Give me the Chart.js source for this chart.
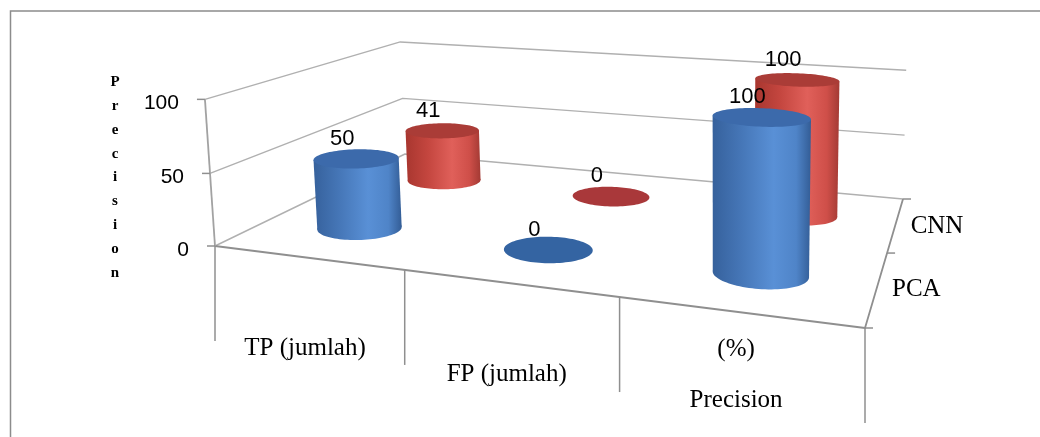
<!DOCTYPE html>
<html>
<head>
<meta charset="utf-8">
<script src="https://cdn.jsdelivr.net/npm/chart.js@4/dist/chart.umd.min.js"></script>
<style>
  html, body { margin: 0; padding: 0; background: #ffffff; }
  #wrap { width: 1040px; height: 437px; position: relative; }
  canvas { display: block; }
</style>
</head>
<body>
<div id="wrap"><canvas id="chart" width="1040" height="437"></canvas></div>
<script>
// ---- data ----
const categories = ['TP (jumlah)', 'FP (jumlah)', ['(%)', 'Precision']];
const seriesNames = ['PCA', 'CNN'];
const pcaValues = [50, 0, 100];
const cnnValues = [41, 0, 100];
const yTicks = [0, 50, 100];
const axisTitle = 'Precision';

// ---- look ----
const palette = {
  PCA: { body: ['#36619c', '#4677b8', '#5990d6', '#4f84c8', '#335d96'], cap: '#3c6aab', disc: '#3464a2' },
  CNN: { body: ['#a8362f', '#c4463f', '#e0605a', '#cf4f49', '#a33a34'], cap: '#aa3c37', disc: '#a9383a' }
};
const gridColor = '#b0b0b0';
const axisColor = '#8f8f8f';

// Screen corners of the 3-D plot box (floor and wall edges).
const boxFloor = [[215, 246], [865, 328], [903, 199], [405, 154]]; // (u,v): (0,0) (1,0) (1,1) (0,1)
const boxRaised = [ // [screenX, screenY, u, v, heightFraction]
  [203, 98, 0, 0, 1], [402, 43, 0, 1, 1], [907, 70, 1, 1, 1],
  [210, 173, 0, 0, 0.5], [403, 100, 0, 1, 0.5], [902, 134, 1, 1, 0.5]
];

function solve(A, b) {
  const n = b.length;
  const M = A.map((r, i) => [...r, b[i]]);
  for (let c = 0; c < n; c++) {
    let p = c;
    for (let r = c + 1; r < n; r++) if (Math.abs(M[r][c]) > Math.abs(M[p][c])) p = r;
    [M[c], M[p]] = [M[p], M[c]];
    for (let r = 0; r < n; r++) {
      if (r === c) continue;
      const f = M[r][c] / M[c][c];
      for (let k = c; k <= n; k++) M[r][k] -= f * M[c][k];
    }
  }
  return M.map((r, i) => r[n] / r[i]);
}

// floor homography (u,v) -> screen
const H = (function () {
  const uv = [[0, 0], [1, 0], [1, 1], [0, 1]];
  const A = [], b = [];
  uv.forEach(([u, v], i) => {
    const [x, y] = boxFloor[i];
    A.push([u, v, 1, 0, 0, 0, -u * x, -v * x]); b.push(x);
    A.push([0, 0, 0, u, v, 1, -u * y, -v * y]); b.push(y);
  });
  const h = solve(A, b);
  return [[h[0], h[1], h[2]], [h[3], h[4], h[5]], [h[6], h[7], 1]];
})();
function floorH(u, v) {
  return [H[0][0] * u + H[0][1] * v + H[0][2], H[1][0] * u + H[1][1] * v + H[1][2], H[2][0] * u + H[2][1] * v + H[2][2]];
}
// vertical direction column, least squares fit
const VC = (function () {
  const rows = [], rhs = [];
  boxRaised.forEach(([sx, sy, u, v, Y]) => {
    const [hx, hy, hw] = floorH(u, v);
    rows.push([Y, 0, -sx * Y]); rhs.push(sx * hw - hx);
    rows.push([0, Y, -sy * Y]); rhs.push(sy * hw - hy);
  });
  const N = [[0, 0, 0], [0, 0, 0], [0, 0, 0]], r = [0, 0, 0];
  rows.forEach((row, k) => {
    for (let i = 0; i < 3; i++) {
      r[i] += row[i] * rhs[k];
      for (let j = 0; j < 3; j++) N[i][j] += row[i] * row[j];
    }
  });
  return solve(N, r);
})();

const nCat = categories.length;
const nDepth = seriesNames.length;
// world: X in [0,nCat], Y in [0,1], Z in [0,nDepth]
function P(X, Y, Z) {
  const [hx, hy, hw] = floorH(X / nCat, Z / nDepth);
  const w = hw + Y * VC[2];
  return [(hx + Y * VC[0]) / w, (hy + Y * VC[1]) / w];
}

function line(ctx, pts, color, width) {
  ctx.save();
  ctx.strokeStyle = color; ctx.lineWidth = width; ctx.lineJoin = 'round';
  ctx.beginPath();
  pts.forEach((p, i) => (i ? ctx.lineTo(p[0], p[1]) : ctx.moveTo(p[0], p[1])));
  ctx.stroke();
  ctx.restore();
}

function poly(ctx, pts) {
  ctx.beginPath();
  pts.forEach((p, i) => (i ? ctx.lineTo(p[0], p[1]) : ctx.moveTo(p[0], p[1])));
  ctx.closePath();
}

function cylinder(ctx, X, Z, rx, rz, Y0, Y1, look) {
  const N = 96, bot = [], top = [];
  for (let i = 0; i < N; i++) {
    const t = (i / N) * Math.PI * 2;
    const x = X + rx * Math.cos(t), z = Z + rz * Math.sin(t);
    bot.push(P(x, Y0, z));
    top.push(P(x, Y1, z));
  }
  ctx.save();
  if (Y1 - Y0 < 1e-6) {
    ctx.fillStyle = look.disc;
    poly(ctx, bot); ctx.fill();
    ctx.restore();
    return;
  }
  const ext = arr => {
    let l = 0, r = 0;
    arr.forEach((p, i) => { if (p[0] < arr[l][0]) l = i; if (p[0] > arr[r][0]) r = i; });
    return [l, r];
  };
  const [bl, br] = ext(bot), [tl, tr] = ext(top);
  const x0 = Math.min(bot[bl][0], top[tl][0]), x1 = Math.max(bot[br][0], top[tr][0]);
  const g = ctx.createLinearGradient(x0, 0, x1, 0);
  g.addColorStop(0, look.body[0]);
  g.addColorStop(0.3, look.body[1]);
  g.addColorStop(0.62, look.body[2]);
  g.addColorStop(0.85, look.body[3]);
  g.addColorStop(1, look.body[4]);
  ctx.fillStyle = g;
  poly(ctx, bot); ctx.fill();
  poly(ctx, [bot[bl], top[tl], top[tr], bot[br]]); ctx.fill();
  ctx.fillStyle = look.cap;
  poly(ctx, top); ctx.fill();
  ctx.restore();
}

const scene3d = {
  id: 'scene3d',
  beforeDatasetsDraw() { return false; },
  afterDraw(chart) {
    const ctx = chart.ctx;
    const area = chart.chartArea;
    const xs = chart.scales.x, ys = chart.scales.y;
    const toX = px => ((px - area.left) / area.width) * nCat;
    const toY = py => (area.bottom - py) / area.height;

    // outer frame
    ctx.save();
    ctx.strokeStyle = '#8c8c8c'; ctx.lineWidth = 1.5;
    ctx.strokeRect(10.5, 11, 1100, 500);
    ctx.restore();

    // walls: gridlines on the left and back walls
    ys.ticks.forEach(t => {
      const Y = toY(ys.getPixelForValue(t.value));
      line(ctx, [P(0, Y, 0), P(0, Y, nDepth), P(nCat, Y, nDepth)], gridColor, 1.4);
    });
    // floor: front and right edges
    line(ctx, [P(0, 0, 0), P(nCat, 0, 0), P(nCat, 0, nDepth)], axisColor, 1.8);
    // value axis line and ticks
    line(ctx, [P(0, 0, 0), P(0, 1, 0)], '#a2a2a2', 1.8);
    ctx.save();
    ctx.fillStyle = '#000';
    ctx.font = '21px "Liberation Sans", Arial, sans-serif';
    ctx.textAlign = 'right'; ctx.textBaseline = 'middle';
    ys.ticks.forEach(t => {
      const Y = toY(ys.getPixelForValue(t.value));
      const p = P(0, Y, 0);
      line(ctx, [[p[0] - 8, p[1]], p], axisColor, 1.5);
      ctx.fillText(String(t.value), p[0] - 26, p[1] + 4);
    });
    ctx.restore();

    // depth axis ticks and series names
    ctx.save();
    for (let k = 0; k <= nDepth; k++) {
      const p = P(nCat, 0, k);
      line(ctx, [p, [p[0] + 8, p[1]]], axisColor, 1.5);
    }
    ctx.fillStyle = '#000';
    ctx.font = '25px "Liberation Serif", "Times New Roman", serif';
    ctx.textAlign = 'left'; ctx.textBaseline = 'middle';
    seriesNames.forEach((name, k) => {
      const p = P(nCat, 0, k + 0.5);
      ctx.fillText(name, p[0] + 15, p[1] + 2);
    });
    ctx.restore();

    // category ticks and labels
    ctx.save();
    for (let i = 0; i <= nCat; i++) {
      const p = P(i, 0, 0);
      line(ctx, [p, [p[0], p[1] + 95]], axisColor, 1.5);
    }
    ctx.fillStyle = '#000';
    ctx.font = '25px "Liberation Serif", "Times New Roman", serif';
    ctx.textAlign = 'center'; ctx.textBaseline = 'middle';
    xs.getLabels().forEach((lab, i) => {
      const p = P(toX(xs.getPixelForValue(i)), 0, 0);
      const lines = Array.isArray(lab) ? lab : [lab];
      const last = lines.length > 1 ? 88 : 91;
      lines.forEach((s, j) => {
        const dy = last - (lines.length - 1 - j) * 51;
        ctx.fillText(s, p[0] - 2, p[1] + dy);
      });
    });
    ctx.restore();

    // value axis title, letters stacked
    ctx.save();
    ctx.fillStyle = '#000';
    ctx.font = 'bold 15px "Liberation Serif", "Times New Roman", serif';
    ctx.textAlign = 'center'; ctx.textBaseline = 'middle';
    axisTitle.split('').forEach((ch, i) => ctx.fillText(ch, 115, 82 + i * 23.9));
    ctx.restore();

    // cylinders: back row first, left to right
    const labelsToDraw = [];
    for (let d = nDepth - 1; d >= 0; d--) {
      const meta = chart.getDatasetMeta(d);
      const look = palette[seriesNames[d]];
      meta.data.forEach((el, i) => {
        const X = toX(el.x);
        const rx = (el.width / area.width) * nCat / 2;
        const rz = 0.2;
        const Z = d + 0.5;
        const Y0 = toY(el.base), Y1 = toY(el.y);
        cylinder(ctx, X, Z, rx, rz, Y0, Y1, look);
        const p = P(X, Y1, Z);
        labelsToDraw.push([String(chart.data.datasets[d].data[i]), p[0] - 14, p[1] - 20]);
      });
    }
    // value labels
    ctx.save();
    ctx.fillStyle = '#000';
    ctx.font = '22px "Liberation Sans", Arial, sans-serif';
    ctx.textAlign = 'center'; ctx.textBaseline = 'middle';
    labelsToDraw.forEach(([s, x, y]) => ctx.fillText(s, x, y));
    ctx.restore();
  }
};

new Chart(document.getElementById('chart'), {
  type: 'bar',
  data: {
    labels: categories,
    datasets: [
      { label: seriesNames[0], data: pcaValues, backgroundColor: palette.PCA.body[2] },
      { label: seriesNames[1], data: cnnValues, backgroundColor: palette.CNN.body[2] }
    ]
  },
  options: {
    responsive: false,
    animation: false,
    devicePixelRatio: 1,
    layout: { padding: 0 },
    datasets: { bar: { grouped: false, barPercentage: 0.42, categoryPercentage: 1 } },
    scales: {
      x: { type: 'category', display: false, offset: true },
      y: { display: false, min: 0, max: 100, ticks: { stepSize: yTicks[1] - yTicks[0] } }
    },
    plugins: { legend: { display: false }, tooltip: { enabled: false } }
  },
  plugins: [scene3d]
});
</script>
</body>
</html>
